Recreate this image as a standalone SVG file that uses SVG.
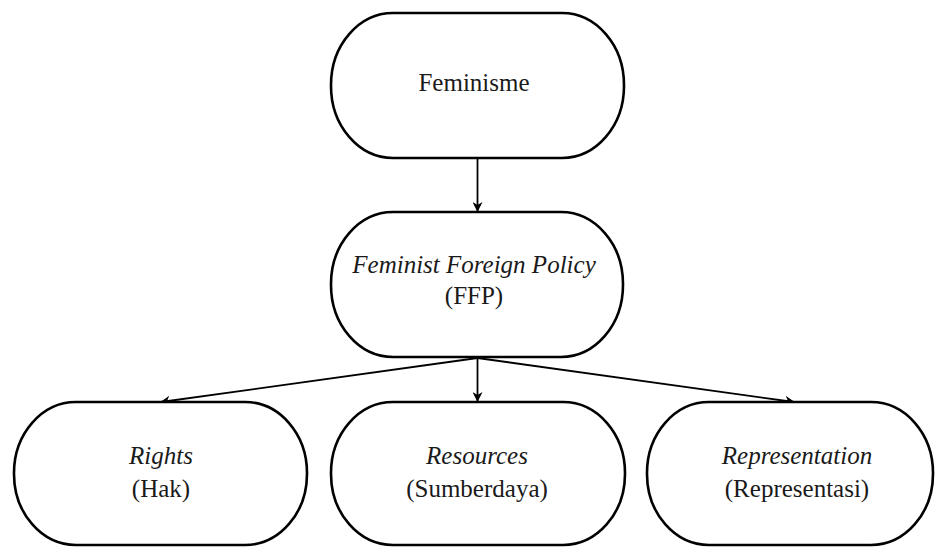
<svg xmlns="http://www.w3.org/2000/svg" width="935" height="547" viewBox="0 0 935 547">
<defs>
<marker id="arr" viewBox="0 0 10 10" refX="9" refY="5" markerWidth="10" markerHeight="10" markerUnits="userSpaceOnUse" orient="auto">
<path d="M0,0 L10,5 L0,10 L3,5 z" fill="#000"/>
</marker>
</defs>
<rect width="935" height="547" fill="#fff"/>
<g id="connectors" stroke="#000" stroke-width="1.8" fill="none" marker-end="url(#arr)">
<line x1="477.5" y1="158" x2="477.5" y2="211"/>
<line x1="477.5" y1="358" x2="477.5" y2="401"/>
<line x1="477.5" y1="358" x2="161" y2="402"/>
<line x1="477.5" y1="358" x2="794" y2="402"/>
</g>
<g id="feminisme">
<rect x="331" y="13" width="293" height="145" rx="62" ry="72" fill="#fff" stroke="#000" stroke-width="2.6"/>
<text x="474" y="91" font-family="Liberation Serif" font-size="25" fill="#1a1a1a" text-anchor="middle">Feminisme</text>
</g>
<g id="ffp">
<rect x="331" y="212" width="292" height="145" rx="62" ry="72" fill="#fff" stroke="#000" stroke-width="2.6"/>
<text x="474" y="273" font-family="Liberation Serif" font-size="25" font-style="italic" fill="#1a1a1a" text-anchor="middle">Feminist Foreign Policy</text>
<text x="474" y="304" font-family="Liberation Serif" font-size="25" fill="#1a1a1a" text-anchor="middle">(FFP)</text>
</g>
<g id="rights">
<rect x="14" y="402" width="293" height="143" rx="62" ry="71" fill="#fff" stroke="#000" stroke-width="2.6"/>
<text x="161" y="464" font-family="Liberation Serif" font-size="25" font-style="italic" fill="#1a1a1a" text-anchor="middle">Rights</text>
<text x="161" y="497" font-family="Liberation Serif" font-size="25" fill="#1a1a1a" text-anchor="middle">(Hak)</text>
</g>
<g id="resources">
<rect x="331" y="402" width="294" height="143" rx="62" ry="71" fill="#fff" stroke="#000" stroke-width="2.6"/>
<text x="477" y="464" font-family="Liberation Serif" font-size="25" font-style="italic" fill="#1a1a1a" text-anchor="middle">Resources</text>
<text x="477" y="497" font-family="Liberation Serif" font-size="25" fill="#1a1a1a" text-anchor="middle">(Sumberdaya)</text>
</g>
<g id="representation">
<rect x="647" y="402" width="286" height="143" rx="62" ry="71" fill="#fff" stroke="#000" stroke-width="2.6"/>
<text x="797" y="464" font-family="Liberation Serif" font-size="25" font-style="italic" fill="#1a1a1a" text-anchor="middle">Representation</text>
<text x="797" y="497" font-family="Liberation Serif" font-size="25" fill="#1a1a1a" text-anchor="middle">(Representasi)</text>
</g>
</svg>
